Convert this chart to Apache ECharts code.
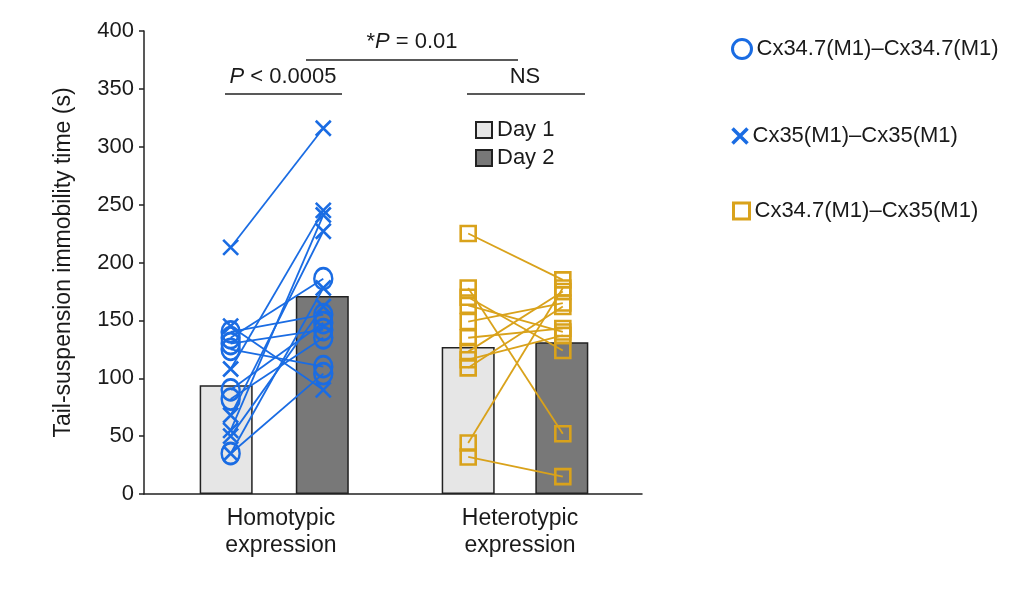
<!DOCTYPE html>
<html>
<head>
<meta charset="utf-8">
<title>Tail-suspension immobility</title>
<script src="https://cdn.jsdelivr.net/npm/echarts@6/dist/echarts.min.js"></script>
<style>
  html, body { margin: 0; padding: 0; background: #fff; }
  #main { width: 1024px; height: 592px; }
</style>
</head>
<body>
<div id="main"></div>
<script>
// groups on the x axis
var groups = ['Homotypic\nexpression', 'Heterotypic\nexpression'];

// bar heights (group means)
var barDay1 = [94, 127];
var barDay2 = [171, 131];

// homotypic, Cx34.7(M1)-Cx34.7(M1), circles (day 1 -> day 2, same index = same animal)
var circDay1 = [140, 135, 130, 125, 90, 82, 35];
var circDay2 = [155, 186, 142, 110, 148, 135, 104];

// homotypic, Cx35(M1)-Cx35(M1), crosses
var crossDay1 = [213, 108, 68, 55, 35, 50, 145];
var crossDay2 = [316, 245, 227, 241, 178, 162, 90];

// heterotypic, Cx34.7(M1)-Cx35(M1), squares
var sqDay1 = [225, 178, 170, 163, 149, 135, 123, 116, 109, 44, 32];
var sqDay2 = [185, 52, 124, 140, 165, 143, 175, 137, 162, 178, 15];

var typeNames = ['Cx34.7(M1)\u2013Cx34.7(M1)', 'Cx35(M1)\u2013Cx35(M1)', 'Cx34.7(M1)\u2013Cx35(M1)'];

var BLUE = '#1a6ce3';
var GOLD = '#d9a21b';
var INK = '#1a1a1a';
var FONT = '"Liberation Sans", Arial, sans-serif';

// x positions on a 0..100 axis
var barX = [[16.5, 35.8], [65.1, 83.9]];
var ptX = [[17.4, 36.0], [65.1, 84.1]];
var CROSS = 'path://M0,0L10,10M10,0L0,10';

var chart = echarts.init(document.getElementById('main'));

var series = [
  {
    name: 'Day 1', type: 'bar', barWidth: 53, barGap: '-100%',
    data: barDay1.map(function (v, i) { return [barX[i][0], v]; }),
    itemStyle: { color: '#e6e6e6', borderColor: '#222', borderWidth: 1.5 },
    silent: true
  },
  {
    name: 'Day 2', type: 'bar', barWidth: 53, barGap: '-100%',
    data: barDay2.map(function (v, i) { return [barX[i][1], v]; }),
    itemStyle: { color: '#787878', borderColor: '#222', borderWidth: 1.5 },
    silent: true
  }
];

function addPairs(d1, d2, g, name, color, symbol, size) {
  d1.forEach(function (v, i) {
    series.push({
      name: name, type: 'line', silent: true,
      data: [[ptX[g][0], v], [ptX[g][1], d2[i]]],
      symbol: symbol, symbolSize: size, showSymbol: true,
      lineStyle: { color: color, width: 1.8 },
      itemStyle: { color: 'none', borderColor: color, borderWidth: 2.6 }
    });
  });
}
addPairs(circDay1, circDay2, 0, typeNames[0], BLUE, 'circle', [18, 21]);
addPairs(crossDay1, crossDay2, 0, typeNames[1], BLUE, CROSS, 15);
addPairs(sqDay1, sqDay2, 1, typeNames[2], GOLD, 'rect', 15);

var legText = { fontSize: 22, color: INK, fontFamily: FONT };

var option = {
  animation: false,
  textStyle: { fontFamily: FONT },
  grid: { left: 144, right: 382, top: 31, bottom: 98 },
  xAxis: {
    type: 'value', min: 0, max: 100,
    axisLine: { show: true, lineStyle: { color: '#222', width: 1.5 } },
    axisTick: { show: false },
    splitLine: { show: false },
    axisLabel: {
      customValues: [27.5, 75.5],
      formatter: function (v) { return v < 50 ? groups[0] : groups[1]; },
      fontSize: 23, color: INK, lineHeight: 27, margin: 11
    }
  },
  yAxis: {
    type: 'value', min: 0, max: 400, interval: 50,
    name: 'Tail-suspension immobility time (s)',
    nameLocation: 'middle', nameGap: 69,
    nameTextStyle: { fontSize: 23, color: INK },
    axisLine: { show: true, lineStyle: { color: '#222', width: 1.5 } },
    axisTick: { show: true, length: 5, lineStyle: { color: '#222', width: 1.5 } },
    splitLine: { show: false },
    axisLabel: { fontSize: 22, color: INK, margin: 10 }
  },
  legend: [
    {
      data: ['Day 1', 'Day 2'], orient: 'vertical', left: 475, top: 119, padding: 0,
      icon: 'rect', itemWidth: 16, itemHeight: 16, itemGap: 6,
      textStyle: legText, selectedMode: false
    },
    {
      data: [{ name: typeNames[0], icon: 'circle',
        itemStyle: { color: 'none', borderColor: BLUE, borderWidth: 3 } }],
      left: 730, top: 37, padding: 0, itemWidth: 19, itemHeight: 21, itemTextGap: 15,
      textStyle: legText, selectedMode: false
    },
    {
      data: [{ name: typeNames[1], icon: CROSS,
        itemStyle: { color: 'none', borderColor: BLUE, borderWidth: 3.5 } }],
      left: 730, top: 125, padding: 0, itemWidth: 15, itemHeight: 15, itemTextGap: 10,
      textStyle: legText, selectedMode: false
    },
    {
      data: [{ name: typeNames[2], icon: 'rect',
        itemStyle: { color: 'none', borderColor: GOLD, borderWidth: 3 } }],
      left: 731, top: 200, padding: 0, itemWidth: 16, itemHeight: 16, itemTextGap: 10,
      textStyle: legText, selectedMode: false
    }
  ],
  graphic: [
    { type: 'line', shape: { x1: 306, y1: 60, x2: 518, y2: 60 }, style: { stroke: '#222', lineWidth: 1.5 } },
    { type: 'line', shape: { x1: 225, y1: 94, x2: 342, y2: 94 }, style: { stroke: '#222', lineWidth: 1.5 } },
    { type: 'line', shape: { x1: 467, y1: 94, x2: 585, y2: 94 }, style: { stroke: '#222', lineWidth: 1.5 } },
    {
      type: 'text', x: 412, y: 42,
      style: {
        text: '*{i|P} = 0.01', align: 'center', verticalAlign: 'middle',
        fontSize: 22, fill: INK, fontFamily: FONT,
        rich: { i: { fontStyle: 'italic', fontSize: 22, fontFamily: FONT, fill: INK } }
      }
    },
    {
      type: 'text', x: 283, y: 77,
      style: {
        text: '{i|P} < 0.0005', align: 'center', verticalAlign: 'middle',
        fontSize: 22, fill: INK, fontFamily: FONT,
        rich: { i: { fontStyle: 'italic', fontSize: 22, fontFamily: FONT, fill: INK } }
      }
    },
    {
      type: 'text', x: 525, y: 77,
      style: { text: 'NS', align: 'center', verticalAlign: 'middle', fontSize: 22, fill: INK, fontFamily: FONT }
    }
  ],
  series: series
};

chart.setOption(option);
</script>
</body>
</html>
